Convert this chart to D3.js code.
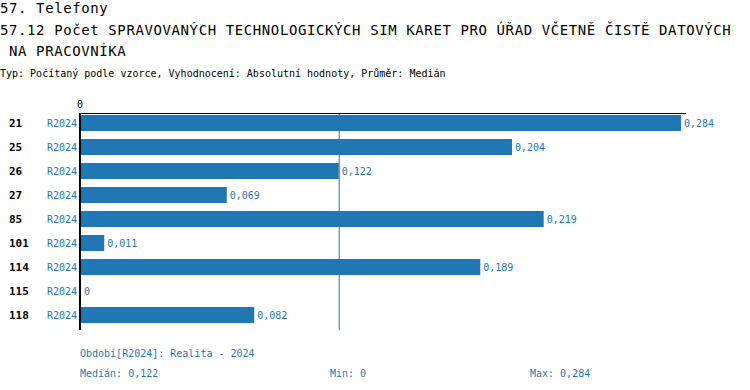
<!DOCTYPE html>
<html>
<head>
<meta charset="utf-8">
<script src="https://cdn.jsdelivr.net/npm/d3@7"></script>
<style>
  body { margin: 0; background: #fff; }
  svg { display: block; }
  text { font-family: "DejaVu Sans Mono", monospace; }
</style>
</head>
<body>
<div id="chart"></div>
<script>
// chart data
const categories = ['21', '25', '26', '27', '85', '101', '114', '115', '118'];
const periods = ['R2024', 'R2024', 'R2024', 'R2024', 'R2024', 'R2024', 'R2024', 'R2024', 'R2024'];
const values = [0.284, 0.204, 0.122, 0.069, 0.219, 0.011, 0.189, 0, 0.082];
const median = 0.122;
const minValue = 0;
const maxValue = 0.284;

const titleLines = [
    '57. Telefony',
    '57.12 Počet SPRAVOVANÝCH TECHNOLOGICKÝCH SIM KARET PRO ÚŘAD VČETNĚ ČISTĚ DATOVÝCH',
    ' NA PRACOVNÍKA'
];
const subtitle = 'Typ: Počítaný podle vzorce, Vyhodnocení: Absolutní hodnoty, Průměr: Medián';
const periodNote = 'Období[R2024]: Realita - 2024';

const blue = '#1f77b4';
const width = 750, height = 390;

const locale = d3.formatLocale({ decimal: ',', thousands: ' ', grouping: [3], currency: ['', ''] });
const fmt = v => v === 0 ? '0' : locale.format('.3f')(v);

const svg = d3.select('#chart').append('svg')
    .attr('width', width)
    .attr('height', height);

// titles
svg.append('text').attr('x', 0).attr('y', 13)
    .attr('font-size', 14).attr('letter-spacing', 0.6)
    .style('white-space', 'pre').text(titleLines[0]);
svg.append('text').attr('x', 0).attr('y', 35)
    .attr('font-size', 14).attr('letter-spacing', 0.6)
    .style('white-space', 'pre').text(titleLines[1]);
svg.append('text').attr('x', 0).attr('y', 56)
    .attr('font-size', 14).attr('letter-spacing', 0.6)
    .attr('xml:space', 'preserve')
    .style('white-space', 'pre').text(titleLines[2]);
svg.append('text').attr('x', 0).attr('y', 77)
    .attr('font-size', 10).text(subtitle);

// scales
const x = d3.scaleLinear().domain([0, maxValue]).range([81, 681]);
const y = d3.scaleBand().domain(categories).range([111, 327])
    .paddingInner(0.333).paddingOuter(0.167);

// bars
svg.append('g').selectAll('rect')
    .data(values)
    .enter().append('rect')
    .attr('x', x(0))
    .attr('y', (d, i) => y(categories[i]))
    .attr('width', d => x(d) - x(0))
    .attr('height', y.bandwidth())
    .attr('fill', blue);

// value labels
svg.append('g').selectAll('text')
    .data(values)
    .enter().append('text')
    .attr('x', d => x(d) + 3)
    .attr('y', (d, i) => y(categories[i]) + y.bandwidth() / 2 + 4)
    .attr('font-size', 10)
    .attr('fill', blue)
    .text(d => fmt(d));

// category labels
svg.append('g').selectAll('text')
    .data(categories)
    .enter().append('text')
    .attr('x', 9)
    .attr('y', d => y(d) + y.bandwidth() / 2 + 4)
    .attr('font-size', 11)
    .attr('font-weight', 'bold')
    .attr('fill', '#000')
    .text(d => d);

// period labels
svg.append('g').selectAll('text')
    .data(periods)
    .enter().append('text')
    .attr('x', 77)
    .attr('y', (d, i) => y(categories[i]) + y.bandwidth() / 2 + 4)
    .attr('font-size', 10)
    .attr('text-anchor', 'end')
    .attr('fill', blue)
    .text(d => d);

// median line
svg.append('line')
    .attr('x1', x(median) + 0.5).attr('x2', x(median) + 0.5)
    .attr('y1', 113).attr('y2', 330)
    .attr('stroke', blue).attr('stroke-width', 1);

// axes
svg.append('line')
    .attr('x1', 80).attr('x2', x(maxValue) + 5)
    .attr('y1', 113.5).attr('y2', 113.5)
    .attr('stroke', '#000').attr('stroke-width', 1);
svg.append('line')
    .attr('x1', 80).attr('x2', 80)
    .attr('y1', 113).attr('y2', 330)
    .attr('stroke', '#000').attr('stroke-width', 2);
svg.append('text')
    .attr('x', x(0) - 1).attr('y', 108)
    .attr('font-size', 10).attr('text-anchor', 'middle')
    .text(fmt(0));

// footer
svg.append('text').attr('x', 80).attr('y', 357)
    .attr('font-size', 10).attr('fill', blue).text(periodNote);
svg.append('text').attr('x', 80).attr('y', 377)
    .attr('font-size', 10).attr('fill', blue).text('Medián: ' + fmt(median));
svg.append('text').attr('x', 330).attr('y', 377)
    .attr('font-size', 10).attr('fill', blue).text('Min: ' + fmt(minValue));
svg.append('text').attr('x', 530).attr('y', 377)
    .attr('font-size', 10).attr('fill', blue).text('Max: ' + fmt(maxValue));
</script>
</body>
</html>
